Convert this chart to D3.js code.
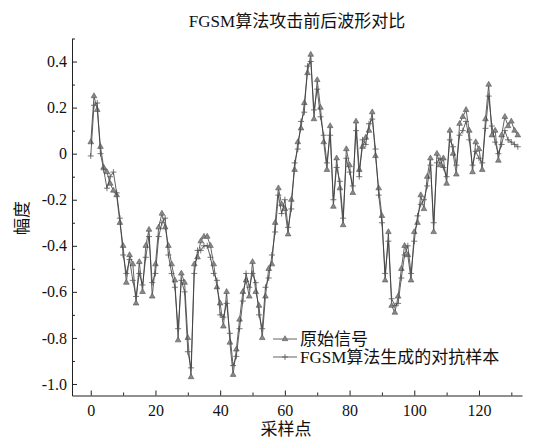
<!DOCTYPE html>
<html>
<head>
<meta charset="utf-8">
<script src="https://cdn.jsdelivr.net/npm/d3@7"></script>
<style>
  body { margin: 0; background: #fff; }
  svg text { font-family: "Liberation Serif", "Noto Sans CJK SC", serif !important; fill: #111; }
  .axis path, .axis line { stroke: #222; }
</style>
</head>
<body>
<svg width="541" height="440"></svg>
<script>
// waarden
var yTicks = [0.4, 0.2, 0, -0.2, -0.4, -0.6, -0.8, -1.0];
var xTicks = [0, 20, 40, 60, 80, 100, 120];
var seriesNames = ["原始信号", "FGSM算法生成的对抗样本"];

var original = [
  0.05, 0.25, 0.19, 0.03, -0.06, -0.08, -0.13, -0.16, -0.18, -0.30,
  -0.40, -0.56, -0.44, -0.48, -0.65, -0.47, -0.60, -0.40, -0.33, -0.62,
  -0.48, -0.32, -0.26, -0.32, -0.40, -0.48, -0.55, -0.81, -0.52, -0.56,
  -0.80, -0.97, -0.48, -0.45, -0.38, -0.36, -0.36, -0.40, -0.48, -0.58,
  -0.65, -0.75, -0.60, -0.82, -0.96, -0.85, -0.72, -0.60, -0.55, -0.62,
  -0.47, -0.60, -0.66, -0.80, -0.62, -0.50, -0.48, -0.30, -0.15, -0.22,
  -0.24, -0.35, -0.20, -0.07, 0.05, 0.11, 0.22, 0.35, 0.43, 0.15,
  0.32, 0.20, 0.05, -0.07, 0.12, -0.23, -0.02, -0.15, -0.31, 0.02,
  -0.05, -0.17, 0.14, -0.07, 0.03, 0.07, 0.10, 0.18, -0.01, -0.15,
  -0.27, -0.55, -0.34, -0.66, -0.69, -0.62, -0.50, -0.40, -0.44, -0.55,
  -0.34, -0.30, -0.18, -0.24, -0.10, -0.02, -0.34, 0.00, -0.05, -0.02,
  -0.13, 0.10, 0.00, -0.09, 0.13, 0.16, 0.19, 0.10, -0.08, 0.05,
  0.02, -0.07, 0.15, 0.30, 0.08, 0.10, -0.03, 0.08, 0.16, 0.12,
  0.14, 0.10, 0.08
];

var adversarial = [
  -0.01, 0.21, 0.22, 0.00, -0.07, -0.15, -0.10, -0.08, -0.17, -0.28,
  -0.44, -0.52, -0.46, -0.55, -0.62, -0.52, -0.57, -0.45, -0.36, -0.56,
  -0.52, -0.36, -0.30, -0.28, -0.44, -0.52, -0.58, -0.76, -0.55, -0.60,
  -0.86, -0.93, -0.52, -0.42, -0.42, -0.40, -0.40, -0.45, -0.52, -0.55,
  -0.70, -0.71, -0.65, -0.78, -0.92, -0.88, -0.76, -0.64, -0.52, -0.58,
  -0.52, -0.56, -0.70, -0.76, -0.58, -0.54, -0.44, -0.34, -0.18, -0.26,
  -0.20, -0.32, -0.24, -0.04, 0.02, 0.14, 0.18, 0.38, 0.40, 0.19,
  0.28, 0.16, 0.08, -0.04, 0.08, -0.20, -0.06, -0.12, -0.28, -0.02,
  -0.08, -0.14, 0.10, -0.10, 0.06, 0.04, 0.13, 0.15, 0.02, -0.18,
  -0.30, -0.52, -0.38, -0.63, -0.66, -0.65, -0.54, -0.44, -0.40, -0.52,
  -0.38, -0.27, -0.22, -0.20, -0.14, -0.05, -0.30, -0.04, -0.02, -0.06,
  -0.10, 0.06, 0.03, -0.05, 0.08, 0.10, 0.14, 0.06, -0.05, 0.01,
  -0.02, -0.04, 0.11, 0.25, 0.12, 0.05, 0.00, 0.04, 0.10, 0.06,
  0.05, 0.04, 0.03
];

var svg = d3.select("svg"),
    margin = {top: 38.5, right: 19, bottom: 44.5, left: 72},
    width = +svg.attr("width") - margin.left - margin.right,
    height = +svg.attr("height") - margin.top - margin.bottom;

var x = d3.scaleLinear().domain([-5.8, 133.3]).range([0, width]),
    y = d3.scaleLinear().domain([-1.05, 0.5]).range([height, 0]);

var g = svg.append("g")
    .attr("transform", "translate(" + margin.left + "," + margin.top + ")");

// kleine streepjes eerst, naar binnen gericht
g.append("g")
    .attr("class", "axis")
    .attr("transform", "translate(0," + height + ")")
    .call(d3.axisBottom(x).tickValues(d3.range(10, 131, 20)).tickSize(-3).tickFormat(""))
    .call(function(s) { s.select(".domain").remove(); });

g.append("g")
    .attr("class", "axis")
    .call(d3.axisLeft(y).tickValues([0.5, 0.3, 0.1, -0.1, -0.3, -0.5, -0.7, -0.9]).tickSize(-3).tickFormat(""))
    .call(function(s) { s.select(".domain").remove(); });

g.append("g")
    .attr("class", "axis")
    .attr("transform", "translate(0," + height + ")")
    .call(d3.axisBottom(x).tickValues(xTicks).tickSize(-5).tickSizeOuter(0).tickPadding(9))
    .call(function(s) {
      s.select(".domain").attr("stroke-width", 1.2);
      s.selectAll("text").style("font-size", "16px");
    });

g.append("g")
    .attr("class", "axis")
    .call(d3.axisLeft(y).tickValues(yTicks).tickSize(-5).tickSizeOuter(0).tickPadding(5)
      .tickFormat(function(d) { return d === 0 ? "0" : d.toFixed(1); }))
    .call(function(s) { s.selectAll("text").style("font-size", "16px"); });

var line = d3.line()
    .x(function(d, i) { return x(i); })
    .y(function(d) { return y(d); });

var tri = d3.symbol().type(d3.symbolTriangle).size(14);

function drawSeries(data, marker) {
  g.append("path")
      .datum(data)
      .attr("fill", "none")
      .attr("stroke", "#3a3a3a")
      .attr("stroke-width", 0.8)
      .attr("d", line);
  var m = g.append("g").selectAll("g")
    .data(data)
    .enter().append("g")
      .attr("transform", function(d, i) { return "translate(" + x(i) + "," + y(d) + ")"; });
  marker(m);
}

function triangles(sel) {
  sel.append("path").attr("d", tri).attr("fill", "#888").attr("stroke", "#555").attr("stroke-width", 0.6);
}
function pluses(sel) {
  sel.append("path").attr("d", "M-3,0H3M0,-3V3").attr("stroke", "#555").attr("stroke-width", 0.8);
}

drawSeries(original, triangles);
drawSeries(adversarial, pluses);

// legenda
var legend = svg.append("g").attr("transform", "translate(273,339)");
[triangles, pluses].forEach(function(mk, k) {
  var row = legend.append("g").attr("transform", "translate(0," + (k * 18) + ")");
  row.append("line").attr("x1", 0).attr("x2", 24).attr("stroke", "#3a3a3a").attr("stroke-width", 0.8);
  mk(row.append("g").attr("transform", "translate(12,0)"));
  row.append("text")
      .attr("x", 27)
      .attr("dy", "0.36em")
      .style("font-size", "17px")
      .text(seriesNames[k]);
});

svg.append("text")
    .attr("x", 297)
    .attr("y", 27)
    .attr("text-anchor", "middle")
    .style("font-size", "17px")
    .text("FGSM算法攻击前后波形对比");

svg.append("text")
    .attr("transform", "translate(28,218) rotate(-90)")
    .attr("text-anchor", "middle")
    .style("font-size", "17px")
    .text("幅度");

svg.append("text")
    .attr("x", 286)
    .attr("y", 435)
    .attr("text-anchor", "middle")
    .style("font-size", "17px")
    .text("采样点");
</script>
</body>
</html>
